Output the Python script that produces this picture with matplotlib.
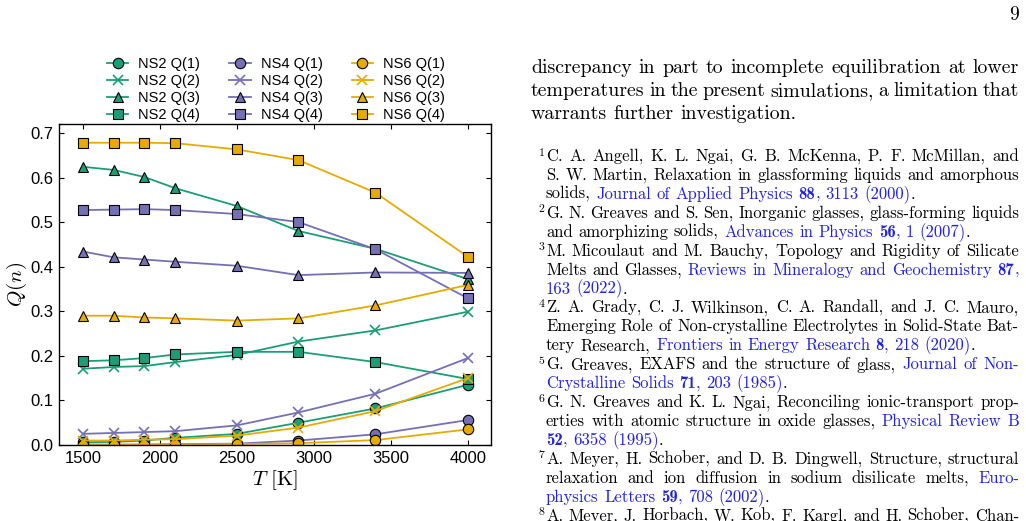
import matplotlib
matplotlib.use("Agg")
import matplotlib.pyplot as plt

# ---------------- data ----------------
T = [1500, 1700, 1900, 2100, 2500, 2900, 3400, 4000]

ns2_q1 = [0.006, 0.007, 0.010, 0.016, 0.025, 0.050, 0.082, 0.135]
ns2_q2 = [0.171, 0.175, 0.177, 0.186, 0.202, 0.232, 0.257, 0.299]
ns2_q3 = [0.624, 0.617, 0.601, 0.576, 0.536, 0.480, 0.440, 0.372]
ns2_q4 = [0.188, 0.190, 0.195, 0.203, 0.209, 0.209, 0.186, 0.148]

ns4_q1 = [0.001, 0.001, 0.001, 0.002, 0.003, 0.010, 0.024, 0.056]
ns4_q2 = [0.025, 0.027, 0.029, 0.031, 0.044, 0.073, 0.115, 0.195]
ns4_q3 = [0.434, 0.421, 0.416, 0.411, 0.402, 0.381, 0.387, 0.386]
ns4_q4 = [0.527, 0.528, 0.529, 0.527, 0.518, 0.500, 0.439, 0.329]

ns6_q1 = [0.000, 0.000, 0.001, 0.001, 0.002, 0.004, 0.011, 0.035]
ns6_q2 = [0.010, 0.010, 0.012, 0.013, 0.021, 0.039, 0.076, 0.150]
ns6_q3 = [0.290, 0.290, 0.286, 0.284, 0.279, 0.284, 0.313, 0.359]
ns6_q4 = [0.678, 0.678, 0.678, 0.677, 0.663, 0.639, 0.566, 0.422]

systems = ["NS2", "NS4", "NS6"]
qlabels = ["Q(1)", "Q(2)", "Q(3)", "Q(4)"]
series = {
    "NS2": [ns2_q1, ns2_q2, ns2_q3, ns2_q4],
    "NS4": [ns4_q1, ns4_q2, ns4_q3, ns4_q4],
    "NS6": [ns6_q1, ns6_q2, ns6_q3, ns6_q4],
}
xticks = [1500, 2000, 2500, 3000, 3500, 4000]
yticks = [0.0, 0.1, 0.2, 0.3, 0.4, 0.5, 0.6, 0.7]

colors = {"NS2": "#1b9e77", "NS4": "#7570b3", "NS6": "#e6ab02"}
markers = ["o", "x", "^", "s"]

# ---------------- figure ----------------
plt.rcParams["mathtext.fontset"] = "cm"
W, H = 1026, 521
fig = plt.figure(figsize=(W / 100, H / 100), dpi=100)
fig.patch.set_facecolor("white")

ax = fig.add_axes([59 / W, 1 - 445 / H, (491 - 59) / W, (445 - 124) / H])

for s in systems:
    for qi, (vals, m) in enumerate(zip(series[s], markers)):
        c = colors[s]
        if m == "x":
            ax.plot(T, vals, color=c, lw=1.3, marker="x", ms=7, mew=1.2,
                    label=f"{s} {qlabels[qi]}")
        else:
            ax.plot(T, vals, color=c, lw=1.3, marker=m, ms=7.5,
                    mfc=c, mec="black", mew=0.8,
                    label=f"{s} {qlabels[qi]}")

ax.set_xlim(1345, 4150)
ax.set_ylim(0, 0.72)
ax.set_xticks(xticks)
ax.set_yticks(yticks)
ax.set_xticklabels([str(v) for v in xticks], family="Liberation Sans", fontsize=12)
ax.set_yticklabels([f"{v:.1f}" for v in yticks], family="Liberation Sans", fontsize=12)
ax.tick_params(direction="in", top=True, right=True, length=3.5, width=0.8, pad=4)
for sp in ax.spines.values():
    sp.set_linewidth(1.0)

ax.set_xlabel(r"$T\ [\mathrm{K}]$", fontsize=15, labelpad=2)
ax.set_ylabel(r"$Q(n)$", fontsize=15, labelpad=1)

leg = ax.legend(ncol=3, loc="lower left", bbox_to_anchor=(107 / W, 1 - 122 / H),
                bbox_transform=fig.transFigure, frameon=False, borderpad=0,
                borderaxespad=0, handlelength=1.45, handletextpad=0.7,
                columnspacing=2.0, labelspacing=0.2,
                prop={"family": "Liberation Sans", "size": 10.5})

# ---------------- page text ----------------
renderer = fig.canvas.get_renderer()
BLUE = "#2222dd"


def parse(line):
    words, cur, chunk, style = [], [], "", "n"
    for ch in line:
        if ch in "{}[]":
            if chunk:
                cur.append((chunk, style))
                chunk = ""
            style = {"{": "l", "}": "n", "[": "b", "]": "n"}[ch]
        elif ch == " ":
            if chunk:
                cur.append((chunk, style))
                chunk = ""
            if cur:
                words.append(cur)
                cur = []
        else:
            chunk += ch
    if chunk:
        cur.append((chunk, style))
    if cur:
        words.append(cur)
    return words


def make_text(txt, style, size):
    fam = "cmb10" if style == "b" else "cmr10"
    col = "black" if style == "n" else BLUE
    return fig.text(0, 0, txt, family=fam, size=size, color=col,
                    ha="left", va="baseline")


def layout_line(line, left, right, ybase, size, justify):
    words = parse(line)
    objs, widths = [], []
    for w in words:
        wo, ww = [], []
        for txt, st in w:
            t = make_text(txt, st, size)
            wo.append(t)
            ww.append(t.get_window_extent(renderer).width)
        objs.append((wo, ww))
        widths.append(sum(ww))
    em = size * 100 / 72
    space = em * 0.333
    if justify and len(words) > 1:
        space = max((right - left - sum(widths)) / (len(words) - 1), em * 0.2)
    x = left
    for (wo, ww), wt in zip(objs, widths):
        xx = x
        for t, cw in zip(wo, ww):
            t.set_position((xx / W, 1 - ybase / H))
            xx += cw
        x += wt + space


# page number
fig.text(1019 / W, 1 - 20 / H, "9", family="cmr10", size=14, ha="right", va="baseline")

main_lines = [
    ("discrepancy in part to incomplete equilibration at lower", True),
    ("temperatures in the present simulations, a limitation that", True),
    ("warrants further investigation.", False),
]
for i, (ln, j) in enumerate(main_lines):
    layout_line(ln, 531, 1019, 73 + 23.2 * i, 14.3, j)

refs = [
    ("1", [("C. A. Angell, K. L. Ngai, G. B. McKenna, P. F. McMillan, and", True),
           ("S. W. Martin, Relaxation in glassforming liquids and amorphous", True),
           ("solids, {Journal of Applied Physics }[88]{, 3113 (2000)}.", False)]),
    ("2", [("G. N. Greaves and S. Sen, Inorganic glasses, glass-forming liquids", True),
           ("and amorphizing solids, {Advances in Physics }[56]{, 1 (2007)}.", False)]),
    ("3", [("M. Micoulaut and M. Bauchy, Topology and Rigidity of Silicate", True),
           ("Melts and Glasses, {Reviews in Mineralogy and Geochemistry }[87]{,}", True),
           ("{163 (2022)}.", False)]),
    ("4", [("Z. A. Grady, C. J. Wilkinson, C. A. Randall, and J. C. Mauro,", True),
           ("Emerging Role of Non-crystalline Electrolytes in Solid-State Bat-", True),
           ("tery Research, {Frontiers in Energy Research }[8]{, 218 (2020)}.", False)]),
    ("5", [("G. Greaves, EXAFS and the structure of glass, {Journal of Non-}", True),
           ("{Crystalline Solids }[71]{, 203 (1985)}.", False)]),
    ("6", [("G. N. Greaves and K. L. Ngai, Reconciling ionic-transport prop-", True),
           ("erties with atomic structure in oxide glasses, {Physical Review B}", True),
           ("[52]{, 6358 (1995)}.", False)]),
    ("7", [("A. Meyer, H. Schober, and D. B. Dingwell, Structure, structural", True),
           ("relaxation and ion diffusion in sodium disilicate melts, {Euro-}", True),
           ("{physics Letters }[59]{, 708 (2002)}.", False)]),
    ("8", [("A. Meyer, J. Horbach, W. Kob, F. Kargl, and H. Schober, Chan-", True)]),
]
k = 0
for num, lines in refs:
    for li, (ln, j) in enumerate(lines):
        yb = 161 + 18.93 * k
        if li == 0:
            fig.text(538.5 / W, 1 - (yb - 5.5) / H, num, family="cmr10", size=8.5,
                     ha="left", va="baseline")
        layout_line(ln, 546, 1019, yb, 12.0, j)
        k += 1

fig.savefig("out.png", dpi=100)
